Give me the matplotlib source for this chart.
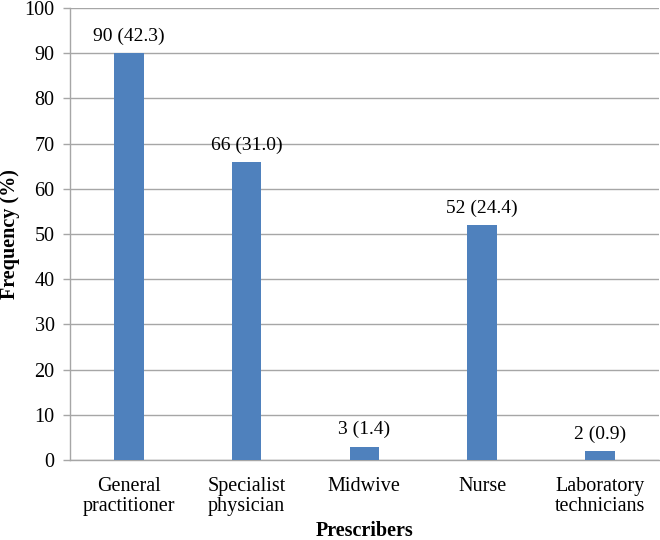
import matplotlib
matplotlib.use('Agg')
import matplotlib.pyplot as plt

plt.rcParams['font.family'] = ['Liberation Serif', 'DejaVu Serif']

# prescriber data
categories = ['General\npractitioner', 'Specialist\nphysician', 'Midwive', 'Nurse', 'Laboratory\ntechnicians']
counts = [90, 66, 3, 52, 2]
percents = [42.3, 31.0, 1.4, 24.4, 0.9]

fs = 14.5

fig = plt.figure(figsize=(6.6, 5.4), dpi=100)
ax = fig.add_axes([0.106, 0.148, 0.892, 0.837])

x = range(len(categories))
bars = ax.bar(x, counts, width=0.25, color='#4F81BD', zorder=3)

for b, c, p in zip(bars, counts, percents):
    ax.text(b.get_x() + b.get_width() / 2, c + 1.8, '%d (%.1f)' % (c, p),
            ha='center', va='bottom', fontsize=14)

ax.set_xlim(-0.5, len(categories) - 0.5)
ax.set_ylim(0, 100)
ax.set_yticks(range(0, 101, 10))
ax.set_xticks(list(x))
ax.set_xticklabels(categories, fontsize=fs, linespacing=1.12)
ax.tick_params(axis='y', labelsize=fs, length=5, color='#A6A6A6', width=1, pad=6)
ax.tick_params(axis='x', length=0, pad=12)

ax.yaxis.grid(True, color='#A6A6A6', linewidth=1, zorder=0)
for s in ['top', 'right']:
    ax.spines[s].set_visible(False)
for s in ['left', 'bottom']:
    ax.spines[s].set_color('#A6A6A6')
    ax.spines[s].set_linewidth(1)

ax.set_xlabel('Prescribers', fontsize=fs, fontweight='bold', labelpad=3)
fig.text(10 / 660, 0.5667, 'Frequency (%)', rotation=90, ha='center', va='center',
         fontsize=fs, fontweight='bold')

fig.savefig('out.png', dpi=100)
